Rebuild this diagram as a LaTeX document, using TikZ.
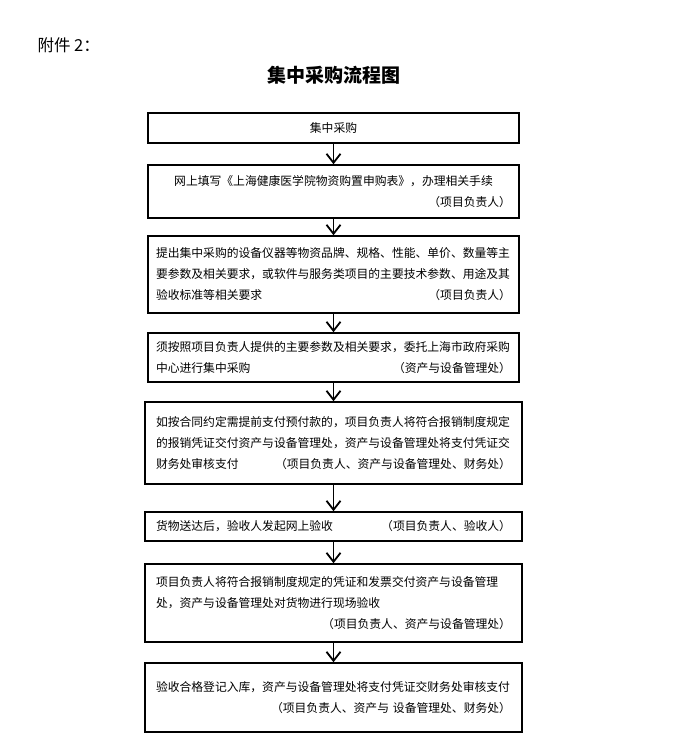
\documentclass[tikz,border=0pt]{standalone}
\usepackage{fontspec}
\setmainfont{Noto Sans CJK SC}
\usetikzlibrary{positioning,arrows.meta}
\newcommand{\pushright}{\hspace*{0pt plus 1filll}}
\tikzset{
    base/.style={font=\fontsize{11.8}{21}\selectfont, inner sep=0pt},
    stepbox/.style={base, rectangle, draw=black, line width=1.5pt,
                    text width=355pt, minimum width=371pt, align=left},
    widebox/.style={stepbox, minimum width=377pt},
    flow/.style={-{Straight Barb[length=9pt,width=14pt,line width=1.8pt]}, line width=1.8pt}
}
\begin{document}
\begin{tikzpicture}[x=1pt, y=-1pt]
  \useasboundingbox (0,0) rectangle (677,746);
  % heading
  \node[anchor=west, font=\fontsize{16.5}{16.5}\selectfont] (annex) at (34,45) {附件 2：};
  \node[font=\fontsize{19}{19}\selectfont\bfseries] (title) at (334,75) {集中采购流程图};

  % steps
  \node[stepbox, align=center, minimum height=30pt] (s1) at (333.5,128) {集中采购};
  \node[stepbox, align=center, minimum height=53pt] (s2) at (333.5,191.5)
    {网上填写《上海健康医学院物资购置申购表》，办理相关手续\\
     \pushright（项目负责人）};
  \node[stepbox, minimum height=77pt] (s3) at (333.5,274.5)
    {提出集中采购的设备仪器等物资品牌、规格、性能、单价、数量等主\\
     要参数及相关要求，或软件与服务类项目的主要技术参数、用途及其\\
     验收标准等相关要求\pushright（项目负责人）};
  \node[stepbox, minimum height=49pt] (s4) at (333.5,357.5)
    {须按照项目负责人提供的主要参数及相关要求，委托上海市政府采购\\
     中心进行集中采购\pushright（资产与设备管理处）};
  \node[widebox, minimum height=82pt] (s5) at (333.5,443)
    {如按合同约定需提前支付预付款的，项目负责人将符合报销制度规定\\
     的报销凭证交付资产与设备管理处，资产与设备管理处将支付凭证交\\
     财务处审核支付\pushright（项目负责人、资产与设备管理处、财务处）};
  \node[widebox, minimum height=29pt] (s6) at (333.5,526.5)
    {货物送达后，验收人发起网上验收\pushright（项目负责人、验收人）};
  \node[widebox, minimum height=78pt] (s7) at (333.5,603)
    {项目负责人将符合报销制度规定的凭证和发票交付资产与设备管理\\
     处，资产与设备管理处对货物进行现场验收\\
     \pushright（项目负责人、资产与设备管理处）};
  \node[widebox, minimum height=69pt] (s8) at (333.5,697.5)
    {验收合格登记入库，资产与设备管理处将支付凭证交财务处审核支付\\
     \pushright（项目负责人、资产与 设备管理处、财务处）\\[6pt]};

  % arrows
  \foreach \a/\b in {s1/s2, s2/s3, s3/s4, s4/s5, s5/s6, s6/s7, s7/s8}
    \draw[flow] (\a.south) -- (\b.north);
\end{tikzpicture}
\end{document}
